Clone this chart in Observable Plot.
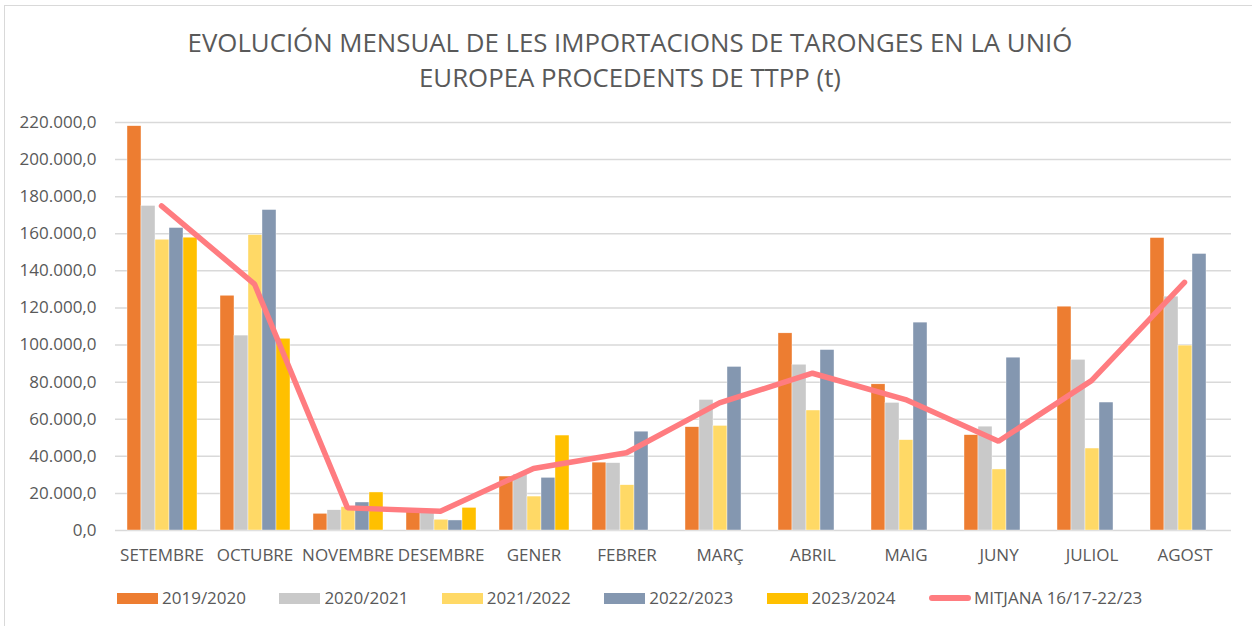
<!DOCTYPE html>
<html>
<head>
<meta charset="utf-8">
<script src="https://cdn.jsdelivr.net/npm/d3@7"></script>
<script src="https://cdn.jsdelivr.net/npm/@observablehq/plot@0.6"></script>
<style>
  html, body { margin: 0; padding: 0; background: #fff; }
  #wrap { position: relative; width: 1252px; height: 626px; overflow: hidden; font-family: "Open Sans", sans-serif; color: #595959; }
  #frame { position: absolute; left: 4px; top: 5px; width: 1300px; height: 700px; border-left: 1.5px solid #d9d9d9; border-top: 1.5px solid #d9d9d9; }
  #title { position: absolute; left: 8px; top: 25px; width: 1244px; text-align: center; font-size: 25.8px; line-height: 35px; color: #595959; }
  #bars, #line { position: absolute; left: 0; top: 100px; }
  #legend { position: absolute; left: 117px; top: 586px; display: flex; font-size: 17px; line-height: 24px; color: #595959; }
  .item { display: flex; align-items: center; width: 162.4px; }
  .sw { width: 41px; height: 11px; margin-right: 4px; flex: none; }
  .lsw { width: 42px; height: 6px; border-radius: 3px; margin-right: 3px; flex: none; }
</style>
</head>
<body>
<div id="wrap">
  <div id="frame"></div>
  <div id="title">EVOLUCIÓN MENSUAL DE LES IMPORTACIONS DE TARONGES EN LA UNIÓ<br>EUROPEA PROCEDENTS DE TTPP (t)</div>
  <div id="bars"></div>
  <div id="line"></div>
  <div id="legend"></div>
</div>
<script>
// ---- Data ----
const months = ["SETEMBRE","OCTUBRE","NOVEMBRE","DESEMBRE","GENER","FEBRER","MARÇ","ABRIL","MAIG","JUNY","JULIOL","AGOST"];
const seriesNames = ["2019/2020","2020/2021","2021/2022","2022/2023","2023/2024"];
const seriesColors = ["#ED7D31","#C9C9C9","#FFD966","#8497B0","#FFC000"];
const v2019_2020 = [218000,126600,9000,10000,29100,36600,55700,106300,78800,51400,120700,157700];
const v2020_2021 = [175000,105100,10900,11000,30200,36300,70400,89400,68800,56000,92000,126100];
const v2021_2022 = [156800,159300,12600,5800,18300,24400,56400,64700,48700,32900,44200,99700];
const v2022_2023 = [163100,172800,15100,5400,28400,53300,88200,97300,112100,93200,69000,149100];
const v2023_2024 = [157900,103400,20500,12200,51200,null,null,null,null,null,null,null];
const lineName = "MITJANA 16/17-22/23";
const lineColor = "#FF7C80";
const mitjana = [175000,132900,12200,10400,33400,41900,68800,84800,70600,48100,80800,133800];
const yTicks = [0,20000,40000,60000,80000,100000,120000,140000,160000,180000,200000,220000];

// ---- Build tables ----
const seriesValues = [v2019_2020, v2020_2021, v2021_2022, v2022_2023, v2023_2024];
const barData = [];
seriesNames.forEach((s, si) => {
  months.forEach((m, mi) => {
    const v = seriesValues[si][mi];
    if (v != null) barData.push({month: m, series: s, value: v});
  });
});
const lineData = months.map((m, i) => ({month: m, value: mitjana[i]}));

const loc = d3.formatLocale({decimal: ",", thousands: ".", grouping: [3], currency: ["", "€"]});
const fmt = loc.format(",.1f");

const W = 1252, H = 480;
const common = {
  width: W, height: H,
  marginLeft: 114, marginRight: 21, marginTop: 22, marginBottom: 50,
  style: {fontFamily: "Open Sans, sans-serif", fontSize: "17px", color: "#595959", background: "transparent", overflow: "visible"}
};

const yScale = {domain: [0, 220000], axis: null, label: null};

const barsPlot = Plot.plot({
  ...common,
  fx: {domain: months, padding: 0, label: null, axis: null},
  x: {domain: seriesNames, paddingInner: 0, paddingOuter: 0.775, axis: null, label: null},
  y: yScale,
  color: {domain: seriesNames, range: seriesColors},
  marks: [
    Plot.gridY(yTicks, {stroke: "#d9d9d9", strokeOpacity: 1, strokeWidth: 1.5}),
    Plot.axisY(yTicks, {anchor: "left", tickSize: 0, tickPadding: 19, tickFormat: fmt, fontSize: 17, label: null}),
    Plot.axisFx({anchor: "bottom", tickSize: 0, tickPadding: 18, fontSize: 17, label: null}),
    Plot.barY(barData, {fx: "month", x: "series", y: "value", fill: "series", stroke: "white", strokeWidth: 0.4})
  ]
});
document.getElementById("bars").appendChild(barsPlot);

const linePlot = Plot.plot({
  ...common,
  x: {type: "point", domain: months, padding: 0.5, axis: null, label: null},
  y: yScale,
  marks: [
    Plot.line(lineData, {x: "month", y: "value", stroke: lineColor, strokeWidth: 5.5, strokeLinecap: "round", strokeLinejoin: "miter"})
  ]
});
document.getElementById("line").appendChild(linePlot);

// ---- Legend ----
const leg = document.getElementById("legend");
seriesNames.forEach((s, i) => {
  const it = document.createElement("div"); it.className = "item";
  const sw = document.createElement("div"); sw.className = "sw"; sw.style.background = seriesColors[i];
  const tx = document.createElement("span"); tx.textContent = s;
  it.appendChild(sw); it.appendChild(tx); leg.appendChild(it);
});
{
  const it = document.createElement("div"); it.className = "item"; it.style.width = "auto";
  const sw = document.createElement("div"); sw.className = "lsw"; sw.style.background = lineColor;
  const tx = document.createElement("span"); tx.textContent = lineName;
  it.appendChild(sw); it.appendChild(tx); leg.appendChild(it);
}
</script>
</body>
</html>
